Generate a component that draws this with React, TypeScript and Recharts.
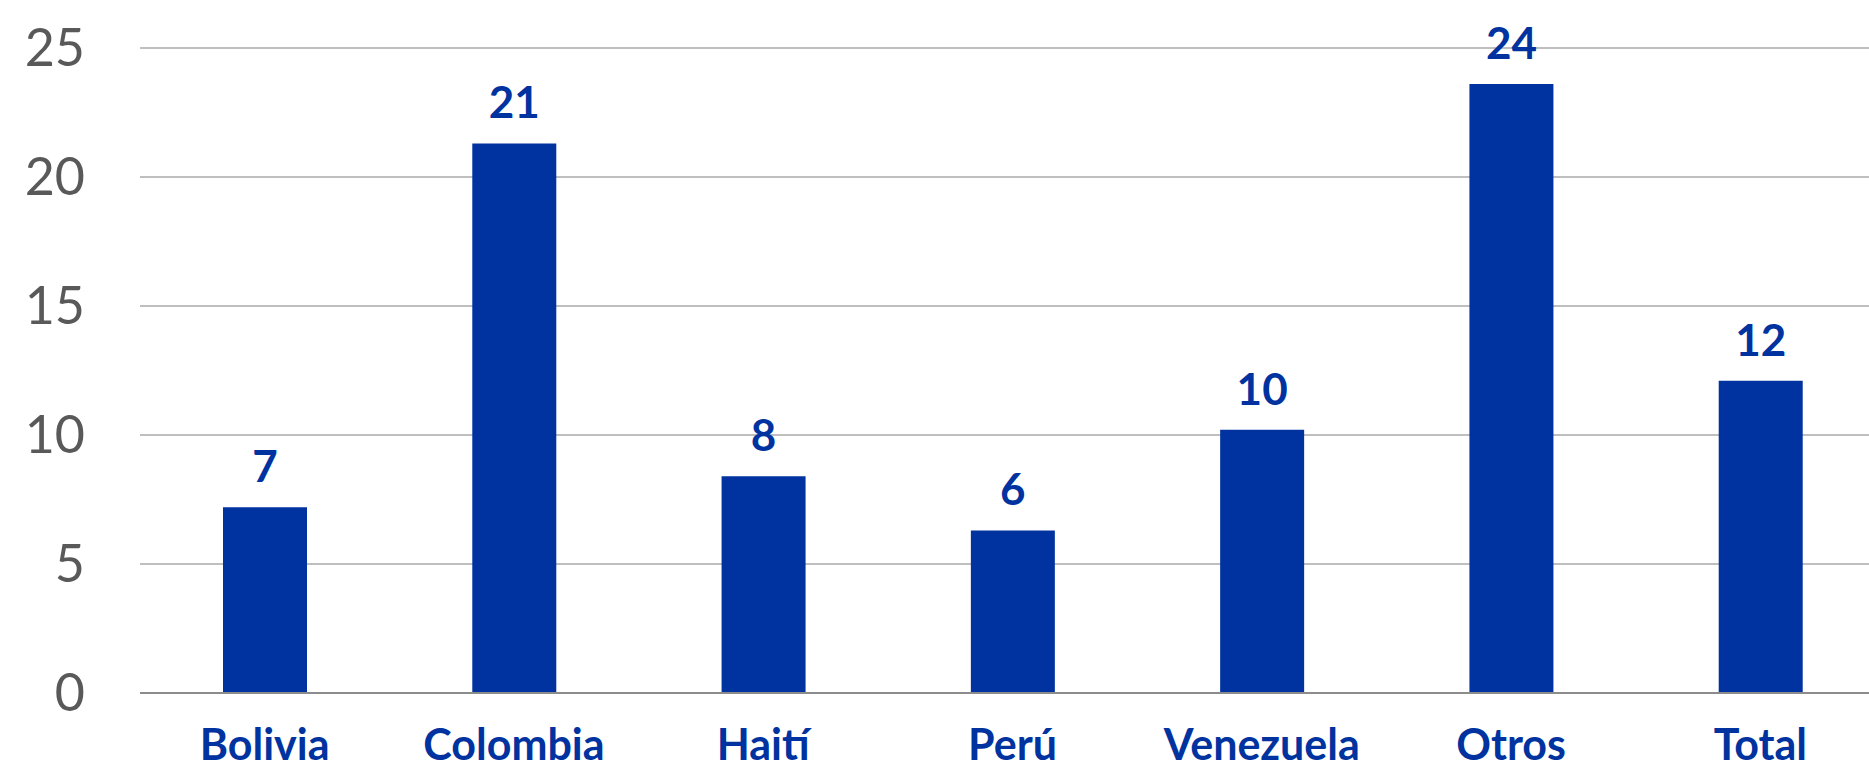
import React from 'react'
import { BarChart, Bar, XAxis, YAxis, CartesianGrid, LabelList } from 'recharts'

const paises = ['Bolivia', 'Colombia', 'Haití', 'Perú', 'Venezuela', 'Otros', 'Total']
const valores = [7.2, 21.3, 8.4, 6.3, 10.2, 23.6, 12.1]
const yTicks = [0, 5, 10, 15, 20, 25]

const data = paises.map((name, i) => ({ name, valor: valores[i] }))

const azul = '#0033A0'

export default function App() {
	return (
		<div style={{ position: 'absolute', left: 0, top: 0, width: 1869, height: 770, overflow: 'hidden', background: '#fff' }}>
			<BarChart
				width={1885}
				height={770}
				data={data}
				margin={{ top: 48, right: 0, left: 0, bottom: 0 }}
				style={{ fontFamily: 'Lato, sans-serif' }}
			>
				<CartesianGrid vertical={false} stroke="#BFBFBF" strokeWidth={2} />
				<XAxis
					dataKey="name"
					height={77}
					tickLine={false}
					axisLine={{ stroke: '#8C8C8C', strokeWidth: 2 }}
					tickMargin={30}
					interval={0}
					tick={{ fill: azul, fontSize: 43, fontWeight: 700 }}
				/>
				<YAxis
					width={140}
					domain={[0, 25]}
					ticks={yTicks}
					tickLine={false}
					axisLine={false}
					tickMargin={49}
					tick={{ fill: '#595959', fontSize: 52 }}
				/>
				<Bar dataKey="valor" fill={azul} barSize={84} isAnimationActive={false}>
					<LabelList
						dataKey="valor"
						position="top"
						offset={25}
						formatter={(v: number) => Math.round(v)}
						style={{ fill: azul, fontSize: 44, fontWeight: 700 }}
					/>
				</Bar>
			</BarChart>
		</div>
	)
}
